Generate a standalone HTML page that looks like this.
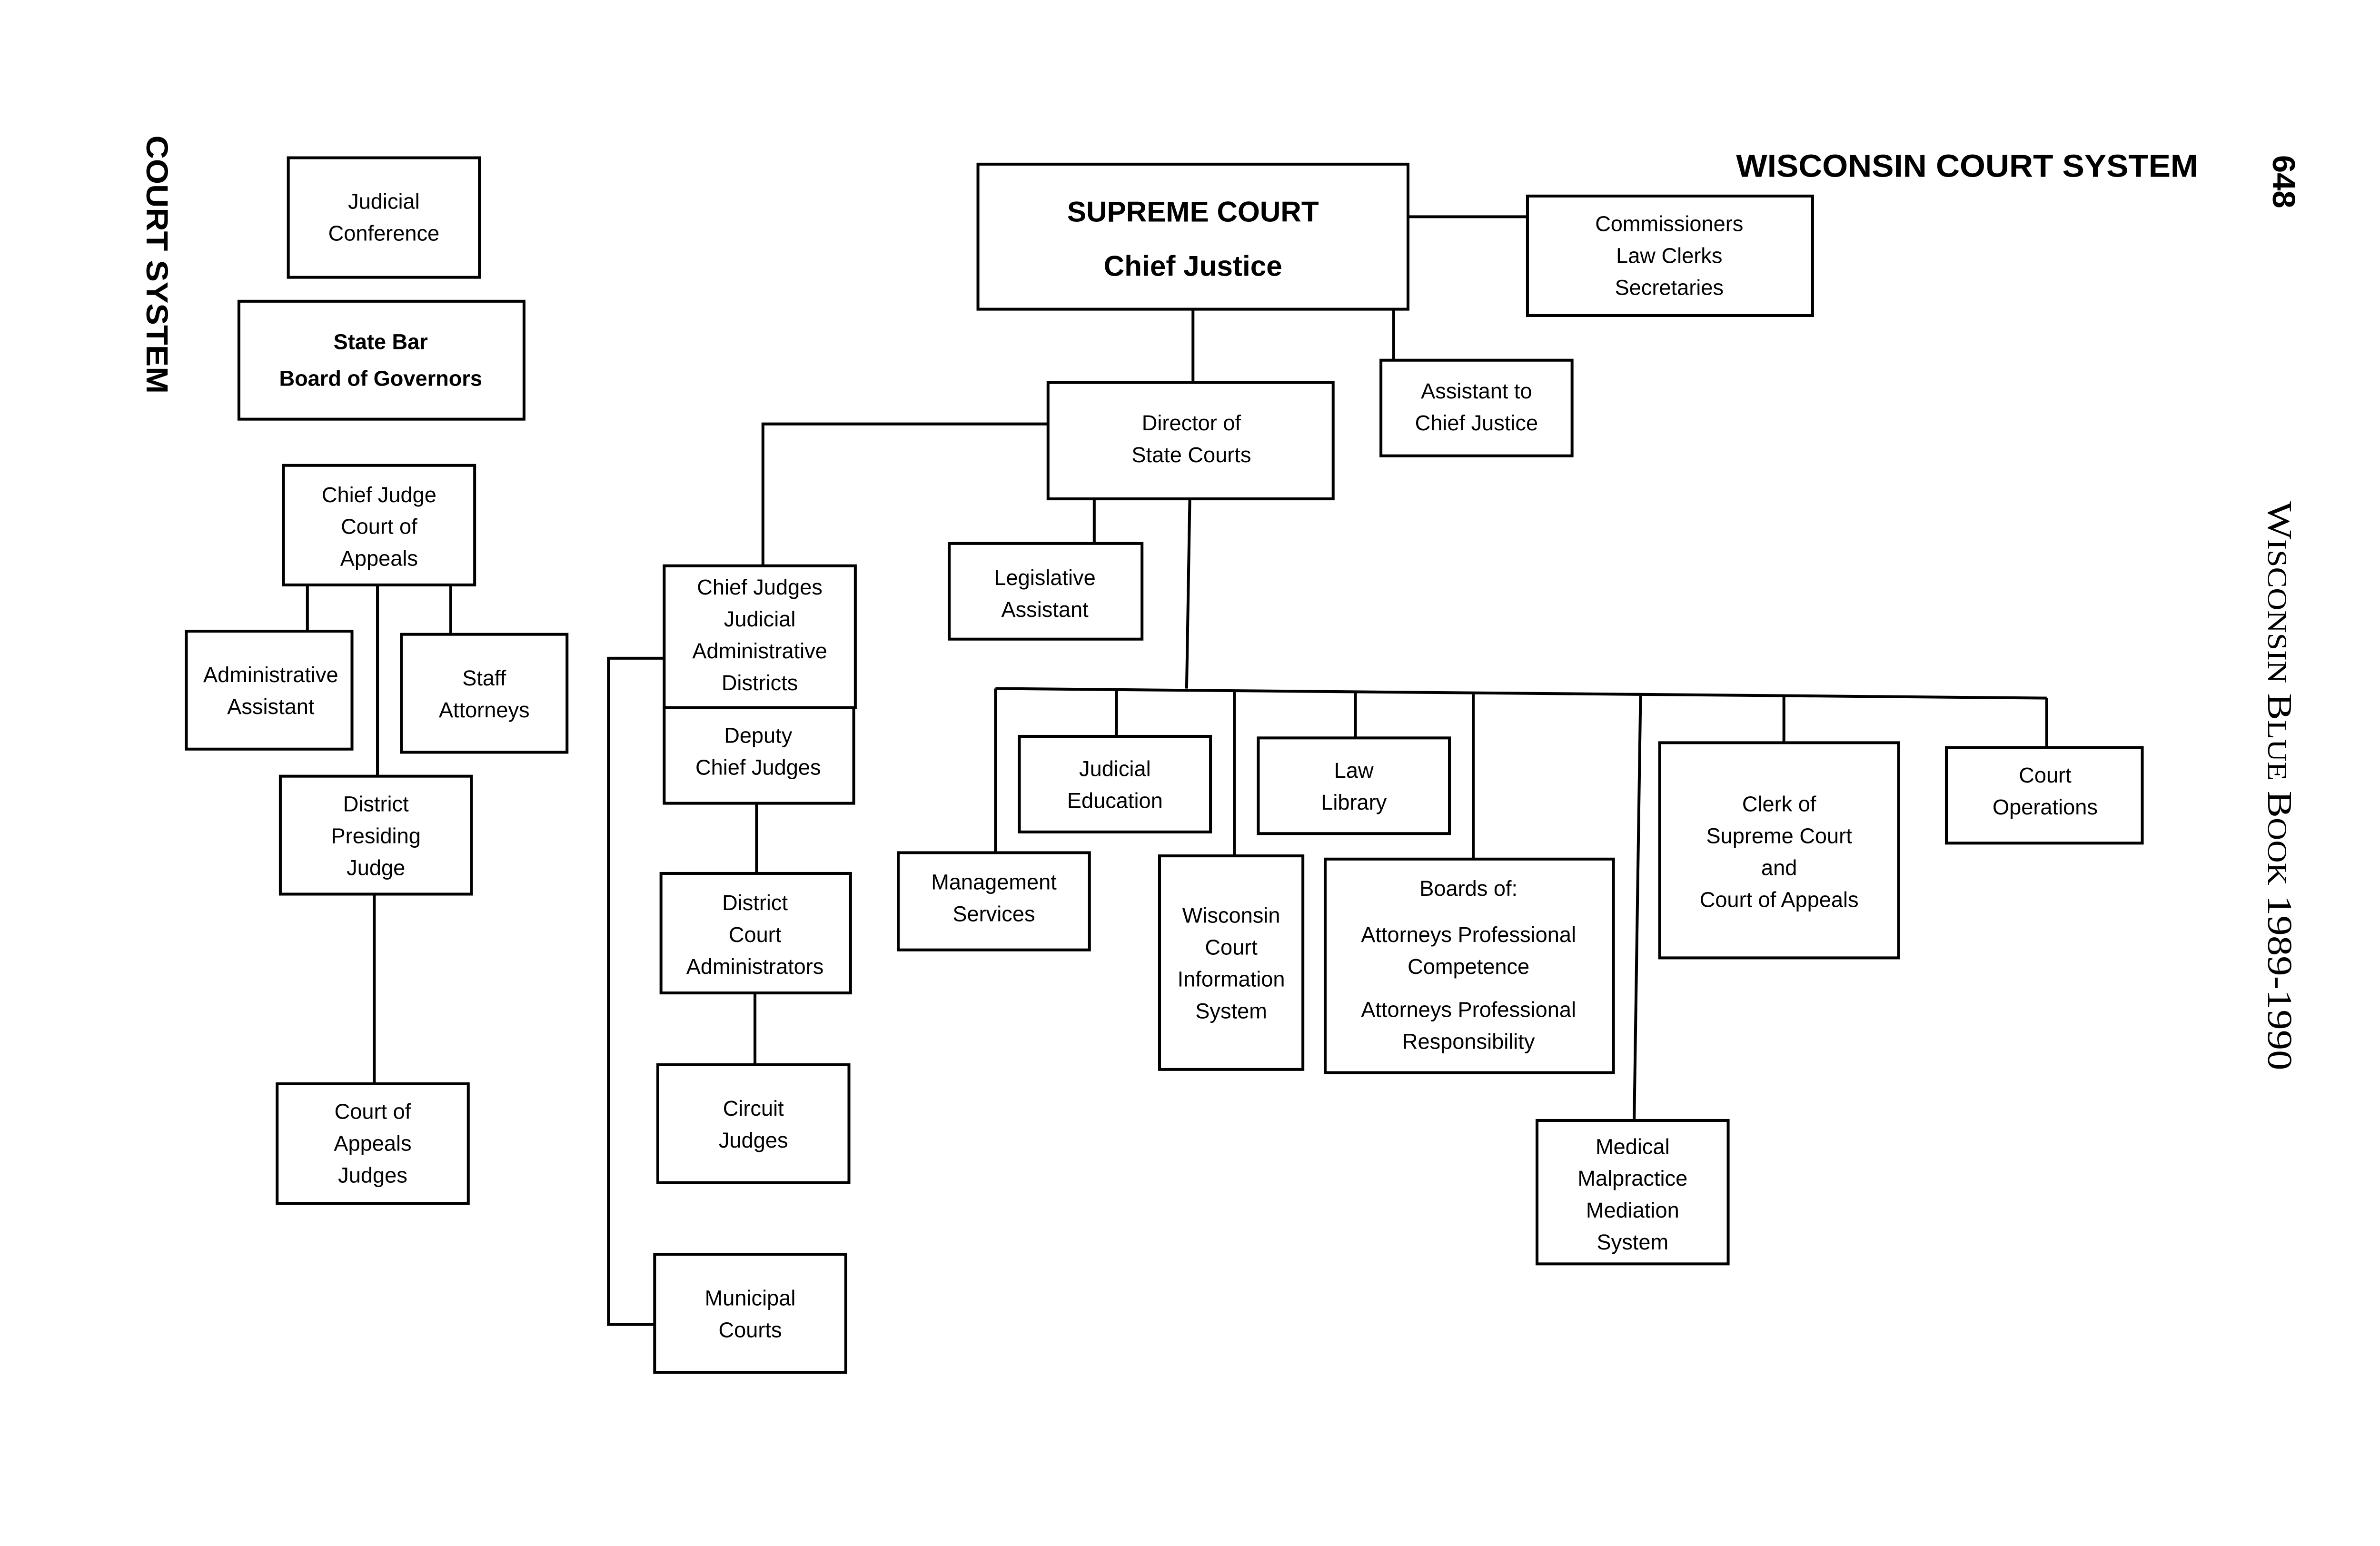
<!DOCTYPE html>
<html><head><meta charset="utf-8"><style>
html,body{margin:0;padding:0;background:#fff;}
svg{display:block;}
text{font-family:"Liberation Sans",sans-serif;fill:#000;}
</style></head><body>
<svg width="5220" height="3248" viewBox="0 0 1560 970" preserveAspectRatio="none" xmlns="http://www.w3.org/2000/svg">
<g fill="none" stroke="#000" stroke-width="1.8">
<rect x="181" y="99" width="120" height="75"/>
<rect x="150" y="189" width="179" height="74"/>
<rect x="178" y="292" width="120" height="75"/>
<rect x="117" y="396" width="104" height="74"/>
<rect x="252" y="398" width="104" height="74"/>
<rect x="176" y="487" width="120" height="74"/>
<rect x="174" y="680" width="120" height="75"/>
<path d="M193 367V396M283 367V398M237 367V487M235 561V680"/>
<rect x="614" y="103" width="270" height="91"/>
<rect x="959" y="123" width="179" height="75"/>
<path d="M884 136H959M749 194V240M875 194V226"/>
<rect x="658" y="240" width="179" height="73"/>
<rect x="867" y="226" width="120" height="60"/>
<path d="M658 266H479V355"/>
<rect x="417" y="355" width="120" height="89"/>
<rect x="417" y="444" width="119" height="60"/>
<path d="M475 504V548M474 623V668M417 413H382V831H411"/>
<rect x="415" y="548" width="119" height="75"/>
<rect x="413" y="668" width="120" height="74"/>
<rect x="411" y="787" width="120" height="74"/>
<rect x="596" y="341" width="121" height="60"/>
<path d="M687 313V341M747 313L745 432"/>
<path d="M625 432L1285 438M625 432V535M701 433V462M775 434V537M851 434V463M925 435V539M1030 436L1026 703M1120 437V466M1285 438V469"/>
<rect x="564" y="535" width="120" height="61"/>
<rect x="640" y="462" width="120" height="60"/>
<rect x="728" y="537" width="90" height="134"/>
<rect x="790" y="463" width="120" height="60"/>
<rect x="832" y="539" width="181" height="134"/>
<rect x="965" y="703" width="120" height="90"/>
<rect x="1042" y="466" width="150" height="135"/>
<rect x="1222" y="469" width="123" height="60"/>
</g>
<g font-size="13.5" text-anchor="middle">
<text x="241" y="131">Judicial</text><text x="241" y="151">Conference</text>
<text x="239" y="219" font-weight="bold">State Bar</text><text x="239" y="242" font-weight="bold">Board of Governors</text>
<text x="238" y="315">Chief Judge</text><text x="238" y="335">Court of</text><text x="238" y="355">Appeals</text>
<text x="170" y="428">Administrative</text><text x="170" y="448">Assistant</text>
<text x="304" y="430">Staff</text><text x="304" y="450">Attorneys</text>
<text x="236" y="509">District</text><text x="236" y="529">Presiding</text><text x="236" y="549">Judge</text>
<text x="234" y="702">Court of</text><text x="234" y="722">Appeals</text><text x="234" y="742">Judges</text>
<text x="749" y="139" font-size="18" font-weight="bold">SUPREME COURT</text>
<text x="749" y="173" font-size="18" font-weight="bold">Chief Justice</text>
<text x="1048" y="145">Commissioners</text><text x="1048" y="165">Law Clerks</text><text x="1048" y="185">Secretaries</text>
<text x="748" y="270">Director of</text><text x="748" y="290">State Courts</text>
<text x="927" y="250">Assistant to</text><text x="927" y="270">Chief Justice</text>
<text x="477" y="373">Chief Judges</text><text x="477" y="393">Judicial</text><text x="477" y="413">Administrative</text><text x="477" y="433">Districts</text>
<text x="476" y="466">Deputy</text><text x="476" y="486">Chief Judges</text>
<text x="474" y="571">District</text><text x="474" y="591">Court</text><text x="474" y="611">Administrators</text>
<text x="473" y="700">Circuit</text><text x="473" y="720">Judges</text>
<text x="471" y="819">Municipal</text><text x="471" y="839">Courts</text>
<text x="656" y="367">Legislative</text><text x="656" y="387">Assistant</text>
<text x="624" y="558">Management</text><text x="624" y="578">Services</text>
<text x="700" y="487">Judicial</text><text x="700" y="507">Education</text>
<text x="773" y="579">Wisconsin</text><text x="773" y="599">Court</text><text x="773" y="619">Information</text><text x="773" y="639">System</text>
<text x="850" y="488">Law</text><text x="850" y="508">Library</text>
<text x="922" y="562">Boards of:</text><text x="922" y="591">Attorneys Professional</text><text x="922" y="611">Competence</text><text x="922" y="638">Attorneys Professional</text><text x="922" y="658">Responsibility</text>
<text x="1025" y="724">Medical</text><text x="1025" y="744">Malpractice</text><text x="1025" y="764">Mediation</text><text x="1025" y="784">System</text>
<text x="1117" y="509">Clerk of</text><text x="1117" y="529">Supreme Court</text><text x="1117" y="549">and</text><text x="1117" y="569">Court of Appeals</text>
<text x="1284" y="491">Court</text><text x="1284" y="511">Operations</text>
</g>
<text x="1235" y="111" font-size="20" font-weight="bold" text-anchor="middle" textLength="290" lengthAdjust="spacingAndGlyphs">WISCONSIN COURT SYSTEM</text>
<text transform="translate(1427,114) rotate(90)" font-size="20" font-weight="bold" text-anchor="middle">648</text>
<text transform="translate(92,166) rotate(90)" font-size="19" font-weight="bold" text-anchor="middle" textLength="162" lengthAdjust="spacingAndGlyphs">COURT SYSTEM</text>
<text transform="translate(1424,493) rotate(90)" font-size="22" text-anchor="middle" style="font-family:'Liberation Serif',serif" textLength="357" lengthAdjust="spacingAndGlyphs">W<tspan font-size="17">ISCONSIN</tspan> B<tspan font-size="17">LUE</tspan> B<tspan font-size="17">OOK</tspan> 1989-1990</text>
</svg>
</body></html>
